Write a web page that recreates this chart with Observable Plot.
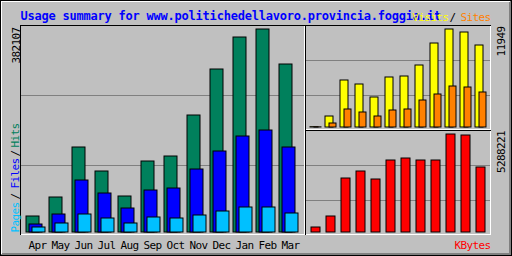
<!DOCTYPE html>
<html><head><meta charset="utf-8">
<script src="https://cdn.jsdelivr.net/npm/d3@7"></script>
<script src="https://cdn.jsdelivr.net/npm/@observablehq/plot@0.6"></script>
<style>
html,body{margin:0;padding:0;background:#fff;}
#chart{position:relative;width:512px;height:256px;overflow:hidden;}
#chart svg{position:absolute;left:0;top:0;}
</style></head><body><div id="chart"></div>
<script>
const months = ["Apr","May","Jun","Jul","Aug","Sep","Oct","Nov","Dec","Jan","Feb","Mar"];
const hits   = [30118, 65880, 160000, 114821, 67763, 133643, 143054, 220229, 306815, 367048, 382107, 316226];
const files  = [15058, 33881, 97878, 73409, 45175, 79056, 82821, 118584, 152465, 180699, 191993, 159995];
const pages  = [9411, 16941, 33881, 26352, 16941, 28234, 26352, 32000, 39528, 47057, 47057, 35764];
const visits = [40, 1341, 5731, 5243, 3658, 6097, 6218, 7560, 10242, 11949, 11583, 9998];
const sites  = [20, 488, 2195, 1829, 1341, 2073, 2195, 3292, 4024, 4999, 4877, 4268];
const kbytes = [269800, 863400, 2913900, 3291600, 2859900, 3885200, 3993100, 3885200, 3885200, 5288221, 5234200, 3507500];
const title = "Usage summary for www.politichedellavoro.provincia.foggia.it";
const seriesNames = {hits:"Hits", files:"Files", pages:"Pages", visits:"Visits", sites:"Sites", kbytes:"KBytes"};

const maxHits = d3.max(hits), maxVisits = d3.max(visits), maxKBytes = d3.max(kbytes);
const rows = months.map((m, i) => ({month: m, hits: hits[i], files: files[i], pages: pages[i], visits: visits[i], sites: sites[i], kbytes: kbytes[i]}));

const C = {bg:"#C0C0C0", hits:"#00805C", files:"#0000FF", pages:"#00C0FF", visits:"#FFFF00", sites:"#FF8000", kbytes:"#FF0000", grid:"#808080", dark:"#808080"};
const chart = document.getElementById("chart");

// ---- decoration (background, bevels, panel frames, grid lines)
const base = d3.create("svg").attr("width", 512).attr("height", 256);
base.append("rect").attr("width", 512).attr("height", 256).attr("fill", C.bg);
function hl(x1, x2, y, c) { base.append("line").attr("x1", x1).attr("x2", x2 + 1).attr("y1", y + 0.5).attr("y2", y + 0.5).attr("stroke", c); }
function vl(x, y1, y2, c) { base.append("line").attr("x1", x + 0.5).attr("x2", x + 0.5).attr("y1", y1).attr("y2", y2 + 1).attr("stroke", c); }
// outer bevel
hl(1, 509, 1, "#fff"); vl(1, 1, 253, "#fff");
vl(509, 2, 254, C.dark); vl(510, 1, 254, C.dark); hl(2, 510, 253, C.dark); hl(1, 510, 254, C.dark);
hl(0, 511, 0, "#000"); hl(0, 511, 255, "#000"); vl(0, 0, 255, "#000"); vl(511, 0, 255, "#000");
// panels
function panel(x1, y1, x2, y2, grids) {
  grids.forEach(g => hl(x1 + 1, x2 - 1, g, C.grid));
  hl(x1, x2, y1, "#000"); vl(x1, y1, y2, "#000");
  vl(x2, y1 + 1, y2, "#fff"); hl(x1 + 1, x2, y2, "#fff");
}
panel(20, 25, 304, 234, [95, 165]);
panel(305, 25, 490, 129, [60, 95]);
panel(305, 130, 490, 234, [165, 200]);
chart.appendChild(base.node());

const mono = "DejaVu Sans Mono";
const small = {fontFamily: mono, fontSize: 11};
const st = "background:transparent;position:absolute;left:0;top:0;letter-spacing:-0.62px;overflow:visible";

// ---- left panel: hits / files / pages
chart.appendChild(Plot.plot({
  width: 512, height: 256, marginLeft: 0, marginRight: 0, marginTop: 29, marginBottom: 24,
  style: st,
  x: {type: "band", domain: months, range: [26, 292], paddingInner: 10 / 23, paddingOuter: 0, axis: null},
  y: {domain: [0, maxHits], axis: null},
  marks: [
    Plot.barY(rows, {x: "month", y: "hits", fill: C.hits, stroke: "#000"}),
    Plot.barY(rows, {x: "month", y: "files", fill: C.files, stroke: "#000", dx: 3}),
    Plot.barY(rows, {x: "month", y: "pages", fill: C.pages, stroke: "#000", dx: 6}),
    Plot.text(rows, {x: "month", text: "month", frameAnchor: "bottom", dx: 4.5, dy: 9, lineAnchor: "top", fill: "#000", ...small})
  ]
}));

// ---- right top: visits / sites
chart.appendChild(Plot.plot({
  width: 512, height: 256, marginLeft: 0, marginRight: 0, marginTop: 29, marginBottom: 129,
  style: st,
  x: {type: "band", domain: months, range: [310, 483], paddingInner: 7 / 15, paddingOuter: 0, axis: null},
  y: {domain: [0, maxVisits], axis: null},
  marks: [
    Plot.barY(rows, {x: "month", y: "visits", fill: C.visits, stroke: "#000"}),
    Plot.barY(rows, {x: "month", y: "sites", fill: C.sites, stroke: "#000", dx: 4, insetRight: 1})
  ]
}));

// ---- right bottom: kbytes
chart.appendChild(Plot.plot({
  width: 512, height: 256, marginLeft: 0, marginRight: 0, marginTop: 134, marginBottom: 24,
  style: st,
  x: {type: "band", domain: months, range: [311, 485], paddingInner: 6 / 15, paddingOuter: 0, axis: null},
  y: {domain: [0, maxKBytes], axis: null},
  marks: [
    Plot.barY(rows, {x: "month", y: "kbytes", fill: C.kbytes, stroke: "#000"})
  ]
}));

// ---- title (drawn under the Visits/Sites legend, as in the original)
chart.appendChild(Plot.plot({
  width: 512, height: 256, margin: 0,
  style: "background:transparent;position:absolute;left:0;top:0;letter-spacing:-0.22px;overflow:visible",
  marks: [
    Plot.text([title], {text: d => d, frameAnchor: "top-left", dx: 20, dy: 10.5, textAnchor: "start", lineAnchor: "top", fontFamily: mono, fontSize: 12, fontWeight: "bold", fill: "#0000FF"})
  ]
}));

// ---- labels
const T = (s, o) => Plot.text([s], {text: d => d, frameAnchor: "top-left", ...small, ...o});
chart.appendChild(Plot.plot({
  width: 512, height: 256, margin: 0, style: st,
  marks: [
    T(seriesNames.visits, {dx: 412, dy: 12.5, textAnchor: "start", lineAnchor: "top", fill: C.visits}),
    T("/", {dx: 452, dy: 12.5, textAnchor: "middle", lineAnchor: "top", fill: "#000"}),
    T(seriesNames.sites, {dx: 460, dy: 12.5, textAnchor: "start", lineAnchor: "top", fill: C.sites}),
    T(seriesNames.kbytes, {dx: 490, dy: 241, textAnchor: "end", lineAnchor: "top", fill: C.kbytes}),
    T(String(maxHits), {dx: 15.5, dy: 63, rotate: -90, textAnchor: "start", lineAnchor: "middle", fill: "#000"}),
    T(String(maxVisits), {dx: 500.5, dy: 56, rotate: -90, textAnchor: "start", lineAnchor: "middle", fill: "#000"}),
    T(String(maxKBytes), {dx: 500.5, dy: 172.5, rotate: -90, textAnchor: "start", lineAnchor: "middle", fill: "#000"}),
    T(seriesNames.pages, {dx: 14.5, dy: 217, rotate: -90, textAnchor: "middle", lineAnchor: "middle", fill: C.pages}),
    T("/", {dx: 14.5, dy: 196, rotate: -90, textAnchor: "middle", lineAnchor: "middle", fill: "#000"}),
    T(seriesNames.files, {dx: 14.5, dy: 173, rotate: -90, textAnchor: "middle", lineAnchor: "middle", fill: C.files}),
    T("/", {dx: 14.5, dy: 153, rotate: -90, textAnchor: "middle", lineAnchor: "middle", fill: "#000"}),
    T(seriesNames.hits, {dx: 14.5, dy: 135, rotate: -90, textAnchor: "middle", lineAnchor: "middle", fill: C.hits})
  ]
}));
</script></body></html>
